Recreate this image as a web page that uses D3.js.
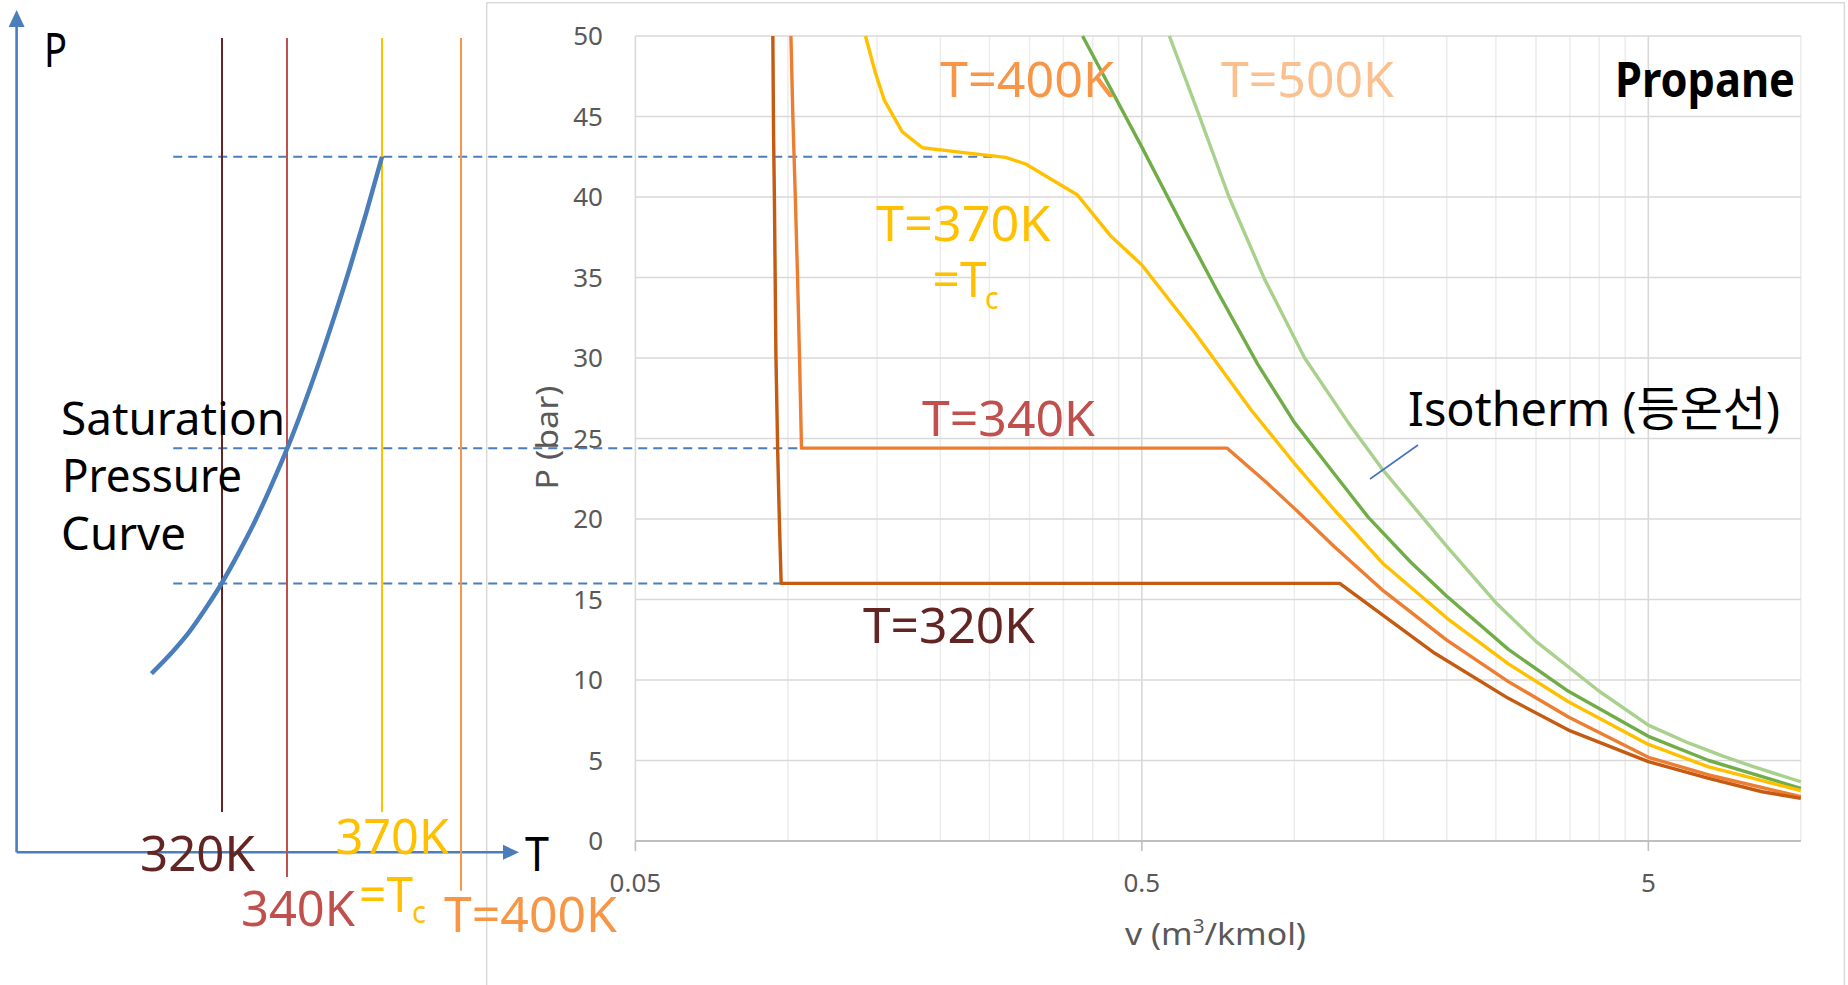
<!DOCTYPE html>
<html><head><meta charset="utf-8">
<script src="https://cdn.jsdelivr.net/npm/d3@7"></script>
<style>body{margin:0;background:#fff;overflow:hidden}svg{display:block}</style>
</head><body>
<svg id="c" width="1848" height="985"></svg>
<script>
// ---------------- DATA ----------------
const vMin = 0.05, vMax = 10, pMin = 0, pMax = 50;
const pTicks = [0, 5, 10, 15, 20, 25, 30, 35, 40, 45, 50];
const vTicks = [0.05, 0.5, 5];
const vTickLabels = ["0.05", "0.5", "5"];

const seriesNames = ["T=320K", "T=340K", "T=370K", "T=400K", "T=500K"];
const iso320 = [[0.0934,50],[0.0937,44],[0.0941,39.5],[0.0947,30.3],[0.0955,24.1],[0.0962,20.0],[0.0970,16.0],
  [1.229,16.0],[1.509,13.93],[1.894,11.66],[2.646,8.86],[3.477,6.89],[5.0,4.93],[6.58,3.89],[8.39,3.06],[10,2.65]];
const iso340 = [[0.1014,50],[0.1023,45],[0.1034,40.2],[0.1045,35.05],[0.1054,30.3],[0.1064,24.4],
  [0.737,24.4],[0.886,22.2],[1.0,20.66],[1.2,18.28],[1.5,15.53],[2.0,12.48],[2.646,9.9],[3.477,7.7],[5.0,5.2],[6.58,4.1],[10,2.75]];
const iso370 = [[0.1423,50],[0.1489,47.7],[0.1551,46.0],[0.1681,44.06],[0.1843,43.06],[0.2161,42.8],[0.2692,42.46],
  [0.2949,42.05],[0.3732,40.12],[0.4334,37.6],[0.5,35.78],[0.635,31.6],[0.8218,26.77],[1.0,23.46],[1.2,20.56],
  [1.5,17.2],[2.0,13.85],[2.646,11.0],[3.477,8.65],[5.0,6.0],[6.58,4.6],[10,3.13]];
const iso400 = [[0.3818,50],[0.5,43.1],[0.6067,38.0],[0.706,34.1],[0.847,29.6],[1.0,26.0],[1.2,22.8],[1.4,20.1],
  [1.7,17.3],[2.0,15.2],[2.646,11.9],[3.477,9.3],[5.0,6.5],[6.58,5.0],[10,3.27]];
const iso500 = [[0.5666,50],[0.6446,45.3],[0.743,40.0],[0.8733,34.9],[1.048,30.0],[1.277,26.0],
  [1.5,23.0],[2.0,18.3],[2.5,14.8],[3.0,12.4],[4.0,9.3],[5.0,7.2],[6.0,6.09],[7.0,5.29],[8.0,4.65],[10,3.68]];
const seriesColors = ["#C55A11", "#ED7D31", "#FFC000", "#70AD47", "#A9D18E"];

// Left schematic P-T diagram
const leftTemps = [320, 340, 370, 400];
const leftTempColors = ["#632523", "#C0504D", "#FFC000", "#F79646"];
const satT = [298.3, 305, 310, 315, 320, 325, 330, 335, 340, 345, 350, 355, 360, 365, 370];
const satP = [10.4, 11.8, 13.0, 14.45, 16.04, 17.85, 19.8, 22.0, 24.35, 26.9, 29.65, 32.6, 35.7, 39.0, 42.5];

// saturation-pressure guide lines (bar) and where they end on the v axis
const guideP = [16.0, 24.4, 42.5];
const guideEndV = [0.104, 0.106, 0.255];
const guideStartT = 305;

// ---------------- LAYOUT ----------------
const svg = d3.select("#c");
const plot = {left: 635.4, right: 1800.8, top: 36, bottom: 841};
const x = d3.scaleLog().domain([vMin, vMax]).range([plot.left, plot.right]);
const y = d3.scaleLinear().domain([pMin, pMax]).range([plot.bottom, plot.top]);
const tx = d3.scaleLinear().domain(leftTemps).range([222, 287, 382, 461]);
const blue = "#4A7EBB";
const FONT = "'Noto Sans','Noto Sans CJK KR',sans-serif";

// chart frame
svg.append("rect").attr("x", 486.7).attr("y", 2.7).attr("width", 1357.7).attr("height", 1000)
  .attr("fill", "#fff").attr("stroke", "#d9d9d9").attr("stroke-width", 1.5);

// minor vertical gridlines
const minorV = [];
[0.05, 0.5, 5].forEach(d => { for (let k = 2; k <= 9; k++) { const v = d * k; if (v <= vMax + 1e-9 && Math.abs(v - 0.5) > 1e-9 && Math.abs(v - 5) > 1e-9) minorV.push(v); } });
svg.append("g").selectAll("line").data(minorV).join("line")
  .attr("x1", d => x(d)).attr("x2", d => x(d)).attr("y1", y(pMax)).attr("y2", y(pMin))
  .attr("stroke", "#ececec").attr("stroke-width", 1.5);
// major vertical
svg.append("g").selectAll("line").data(vTicks).join("line")
  .attr("x1", d => x(d)).attr("x2", d => x(d)).attr("y1", y(pMax)).attr("y2", y(pMin))
  .attr("stroke", "#d9d9d9").attr("stroke-width", 1.6);
// horizontal gridlines
svg.append("g").selectAll("line").data(pTicks).join("line")
  .attr("x1", plot.left).attr("x2", plot.right).attr("y1", d => y(d)).attr("y2", d => y(d))
  .attr("stroke", "#d9d9d9").attr("stroke-width", 1.6);
// x axis line + ticks
svg.append("line").attr("x1", plot.left).attr("x2", plot.right).attr("y1", y(0)).attr("y2", y(0))
  .attr("stroke", "#bfbfbf").attr("stroke-width", 1.8);
svg.append("g").selectAll("line").data(vTicks).join("line")
  .attr("x1", d => x(d)).attr("x2", d => x(d)).attr("y1", y(0)).attr("y2", y(0) + 10)
  .attr("stroke", "#bfbfbf").attr("stroke-width", 1.6);

// tick labels
svg.append("g").selectAll("text").data(pTicks).join("text")
  .attr("x", 603).attr("y", d => y(d) + 9).attr("text-anchor", "end")
  .attr("font-family", FONT).attr("font-size", 26).attr("fill", "#595959").text(d => d);
svg.append("g").selectAll("text").data(vTicks).join("text")
  .attr("x", d => x(d)).attr("y", 892).attr("text-anchor", "middle")
  .attr("font-family", FONT).attr("font-size", 26).attr("fill", "#595959")
  .text((d, i) => vTickLabels[i]);

// axis titles
const xt = svg.append("text").attr("x", 1125).attr("y", 945).attr("font-family", FONT)
  .attr("font-size", 31).attr("fill", "#595959").attr("textLength", 181).attr("lengthAdjust", "spacingAndGlyphs");
xt.append("tspan").text("v (m");
xt.append("tspan").attr("font-size", 19).attr("dy", -12).text("3");
xt.append("tspan").attr("dy", 12).text("/kmol)");
svg.append("text").attr("transform", "translate(558,437.5) rotate(-90)").attr("text-anchor", "middle")
  .attr("font-family", FONT).attr("font-size", 31).attr("fill", "#595959")
  .attr("textLength", 104).attr("lengthAdjust", "spacingAndGlyphs").text("P (bar)");

// guide dashed lines
svg.append("g").selectAll("line").data(guideP).join("line")
  .attr("x1", tx(guideStartT)).attr("x2", (d, i) => x(guideEndV[i]))
  .attr("y1", d => y(d)).attr("y2", d => y(d))
  .attr("stroke", blue).attr("stroke-width", 2).attr("stroke-dasharray", "9,6");

// isotherms
const isoData = [iso320, iso340, iso370, iso400, iso500];
const line = d3.line().x(d => x(d[0])).y(d => y(d[1]));
svg.append("g").selectAll("path").data(isoData.slice().reverse()).join("path")
  .attr("d", line).attr("fill", "none")
  .attr("stroke", (d, i) => seriesColors[seriesColors.length - 1 - i])
  .attr("stroke-width", 3.4).attr("stroke-linejoin", "round");

// ---------------- LEFT PANEL ----------------
const origin = {x: 16.6, y: 852.3};
svg.append("line").attr("x1", origin.x).attr("x2", origin.x).attr("y1", origin.y).attr("y2", 24)
  .attr("stroke", blue).attr("stroke-width", 2.6);
svg.append("path").attr("d", `M${origin.x},10 L${origin.x - 8},27 L${origin.x + 8},27 Z`).attr("fill", blue);
svg.append("line").attr("x1", origin.x).attr("x2", 505).attr("y1", origin.y).attr("y2", origin.y)
  .attr("stroke", blue).attr("stroke-width", 2.6);
svg.append("path").attr("d", `M519,${origin.y} L503,${origin.y - 7.5} L503,${origin.y + 7.5} Z`).attr("fill", blue);

const leftLineBottom = [812, 877, 812, 890.7];
svg.append("g").selectAll("line").data(leftTemps).join("line")
  .attr("x1", d => tx(d)).attr("x2", d => tx(d)).attr("y1", y(pMax) + 2).attr("y2", (d, i) => leftLineBottom[i])
  .attr("stroke", (d, i) => leftTempColors[i]).attr("stroke-width", 2);

const satLine = d3.line().x(d => tx(d[0])).y(d => y(d[1])).curve(d3.curveMonotoneX);
svg.append("path").datum(satT.map((t, i) => [t, satP[i]])).attr("d", satLine)
  .attr("fill", "none").attr("stroke", blue).attr("stroke-width", 4.5);

// ---------------- TEXT ----------------
function label(t, xx, yy, w, color, size, weight) {
  const el = svg.append("text").attr("x", xx).attr("y", yy).attr("font-family", FONT)
    .attr("font-size", size).attr("fill", color).text(t);
  if (weight) el.attr("font-weight", weight);
  if (w) el.attr("textLength", w).attr("lengthAdjust", "spacingAndGlyphs");
  return el;
}
// left panel
label("P", 44, 67, 23, "#000", 48);
label("T", 525, 870.7, 24, "#000", 48);
label("Saturation", 61, 435, 224, "#000", 46);
label("Pressure", 62, 491.7, 180, "#000", 46);
label("Curve", 61, 550, 125, "#000", 46);
label("320K", 140, 870.7, 115, "#632523", 49);
label("340K", 241, 925.5, 114, "#C0504D", 49);
label("=T", 359, 911.7, 54, "#FFC000", 49);
label("c", 412, 923.3, 14, "#FFC000", 30);
label("370K", 335.5, 854, 113.5, "#FFC000", 49);
label("T=400K", 444, 931.7, 173, "#F79646", 50);
// right panel
label("T=400K", 940, 96.7, 174, "#F79646", 50);
label("T=500K", 1221, 96.7, 173, "#FAC090", 50);
label("T=370K", 876, 240.7, 174.5, "#FFC000", 50);
label("=T", 932.5, 296.7, 54, "#FFC000", 50);
label("c", 985, 309.3, 13.5, "#FFC000", 30);
label("T=340K", 922, 436, 173, "#C0504D", 50);
label("T=320K", 863, 643, 172, "#632523", 50);
label("Isotherm (등온선)", 1408, 426, 372, "#000", 48);
label("Propane", 1615, 96.7, 180, "#000", 48, "bold");
svg.append("line").attr("x1", 1418).attr("y1", 445).attr("x2", 1370).attr("y2", 479)
  .attr("stroke", "#4472C4").attr("stroke-width", 1.6);
</script>
</body></html>
